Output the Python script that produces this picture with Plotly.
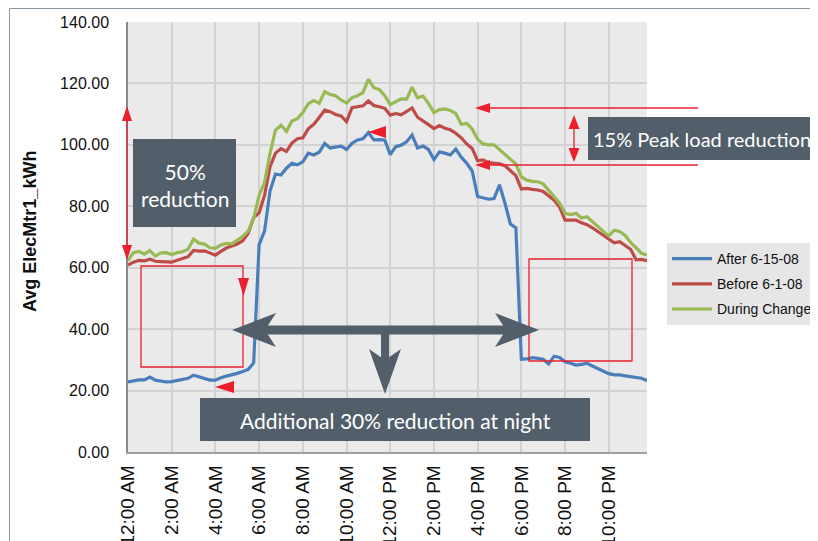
import plotly.graph_objects as go

# ---------------- data ----------------
def _lbl(i):
    h, m = divmod(i * 15, 60)
    ap = "AM" if h < 12 else "PM"
    hh = h % 12
    hh = 12 if hh == 0 else hh
    return f"{hh}:{m:02d} {ap}"

slots = [_lbl(i) for i in range(96)]          # 15-minute categories
tick_labels = ["12:00 AM", "2:00 AM", "4:00 AM", "6:00 AM", "8:00 AM", "10:00 AM",
               "12:00 PM", "2:00 PM", "4:00 PM", "6:00 PM", "8:00 PM", "10:00 PM"]

after_6_15 = [22.8, 23.1, 23.5, 23.5, 24.4, 23.4, 23.1, 22.8, 22.9, 23.3, 23.7, 24.0,
              25.0, 24.5, 24.0, 23.4, 23.4, 24.2, 24.7, 25.1, 25.6, 26.2, 26.9, 29.0,
              67.5, 72.0, 85.0, 90.5, 90.2, 92.4, 94.0, 93.5, 94.5, 97.3, 96.7, 97.6,
              100.5, 99.0, 99.4, 99.6, 98.5, 100.5, 101.6, 102.0, 104.0, 101.6, 101.7, 101.6,
              96.8, 99.4, 99.9, 101.0, 103.2, 99.0, 99.6, 98.5, 95.2, 97.7, 97.3, 96.7,
              98.6, 96.0, 94.0, 91.5, 83.2, 82.7, 82.3, 82.5, 87.0, 81.0, 74.2, 73.0,
              30.2, 30.3, 30.7, 30.5, 30.2, 28.7, 31.2, 30.8, 29.4, 28.9, 28.3, 28.5,
              28.9, 28.0, 27.1, 26.3, 25.5, 25.1, 25.1, 24.8, 24.5, 24.2, 24.0, 23.3]

before_6_1 = [60.9, 61.8, 62.4, 62.2, 62.8, 62.1, 62.0, 62.0, 61.8, 62.4, 63.0, 63.6,
              65.6, 65.4, 65.5, 64.9, 64.1, 65.3, 66.4, 67.1, 67.7, 68.8, 71.2, 76.3,
              77.9, 83.6, 92.9, 97.3, 98.8, 97.9, 100.6, 102.0, 102.3, 105.2, 106.7, 108.9,
              111.3, 110.8, 109.9, 109.4, 107.6, 112.1, 112.4, 112.7, 114.3, 112.8, 112.4, 111.9,
              109.7, 110.2, 109.8, 110.8, 112.0, 109.0, 107.9, 106.6, 105.3, 106.3, 105.4, 104.9,
              103.8, 102.3, 100.3, 98.8, 94.8, 95.1, 94.2, 94.0, 93.8, 93.2, 91.7, 90.0,
              85.6, 85.8, 85.5, 85.3, 84.8, 83.3, 82.0, 79.7, 75.5, 75.5, 75.5, 74.6,
              74.0, 73.0, 71.7, 70.7, 69.3, 68.1, 68.5, 67.4, 66.0, 62.6, 62.7, 62.3]

during_changes = [62.3, 64.9, 65.3, 64.4, 65.6, 63.8, 64.8, 64.9, 64.3, 64.9, 65.2, 66.0,
                  69.3, 68.0, 67.7, 66.5, 66.3, 67.4, 67.9, 67.8, 69.0, 70.2, 72.0, 76.0,
                  83.6, 87.8, 97.3, 104.8, 106.4, 104.4, 107.8, 108.5, 110.5, 113.4, 114.4, 113.5,
                  117.3, 116.4, 116.0, 114.6, 113.6, 115.4, 116.0, 117.0, 121.3, 118.6, 118.0, 116.0,
                  113.1, 114.2, 115.0, 114.9, 118.8, 115.3, 115.9, 113.5, 110.5, 111.5, 111.7, 111.2,
                  110.2, 106.7, 107.0, 105.2, 101.8, 100.3, 100.0, 100.0, 98.4, 97.1, 95.5, 93.8,
                  89.6, 88.5, 88.1, 88.0, 87.3, 85.2, 83.4, 81.0, 77.7, 77.3, 77.7, 76.2,
                  76.6, 75.0, 73.6, 71.9, 70.3, 72.2, 71.8, 70.5, 68.2, 66.5, 64.7, 64.1]

series_names = ["After 6-15-08", "Before 6-1-08", "During Changes"]
series_colors = ["#4a7ebb", "#be4b48", "#98b954"]
y_ticks = [0, 20, 40, 60, 80, 100, 120, 140]

# ---------------- layout geometry (page pixels) ----------------
PAGE_W, PAGE_H = 818, 541
OFF = 8                       # default body margin of the html page
W, H = PAGE_W - OFF, PAGE_H - OFF
L, R, T, B = 128, 647, 22, 452


def px(x):
    return (x - L) / (R - L)


def py(y):
    return (B - y) / (B - T)


RED = "#ec1f2d"
DARK = "#525f6b"

fig = go.Figure()
for name, vals, col in zip(series_names, [after_6_15, before_6_1, during_changes], series_colors):
    fig.add_trace(go.Scatter(x=slots, y=vals, mode="lines", name=name,
                             legendgroup=name,
                             line=dict(color=col, width=3.2)))

shapes = []


def poly(pts, color):
    d = "M " + " L ".join(f"{px(x):.5f},{py(y):.5f}" for x, y in pts) + " Z"
    shapes.append(dict(type="path", xref="paper", yref="paper", path=d,
                       fillcolor=color, line=dict(width=0)))


def seg(x0, y0, x1, y1, color, w=1.3):
    shapes.append(dict(type="line", xref="paper", yref="paper",
                       x0=px(x0), y0=py(y0), x1=px(x1), y1=py(y1),
                       line=dict(color=color, width=w)))


def box(x0, y0, x1, y1, fill=None, color=None, w=1.3):
    d = dict(type="rect", xref="paper", yref="paper",
             x0=px(x0), y0=py(y0), x1=px(x1), y1=py(y1))
    if fill:
        d["fillcolor"] = fill
        d["line"] = dict(width=0)
    else:
        d["line"] = dict(color=color, width=w)
    shapes.append(d)


# chart-area border
shapes.append(dict(type="path", xref="paper", yref="paper",
                   path=f"M {px(9.5)},{py(560)} L {px(9.5)},{py(8.5)} L {px(840)},{py(8.5)}",
                   line=dict(color="#8996a2", width=1)))

# red vertical double arrow (left)
seg(127, 116, 127, 250, RED)
poly([(127, 106), (122, 121), (132, 121)], RED)
poly([(127, 260), (122, 245), (132, 245)], RED)
# triangle pointing at blue peak
poly([(368, 132), (386, 126), (386, 138)], RED)
# horizontal arrows right side
for yy in (108, 165):
    seg(488, yy, 698, yy, RED)
    poly([(475, yy), (490, yy - 5), (490, yy + 5)], RED)
# vertical double arrow (15%)
seg(574, 125, 574, 152, RED)
poly([(574, 115), (568.5, 129), (579.5, 129)], RED)
poly([(574, 162), (568.5, 148), (579.5, 148)], RED)
# night rectangles
box(141, 266, 243, 367, color=RED)
box(529, 259, 632, 361, color=RED)
poly([(243.5, 296), (238, 278), (249, 278)], RED)
poly([(215, 387), (234, 381), (234, 393)], RED)

# dark double arrow + stem
box(262, 325.5, 509, 334.5, fill=DARK)
poly([(232, 330), (276, 313), (265, 330), (276, 347)], DARK)
poly([(539, 330), (495, 313), (506, 330), (495, 347)], DARK)
box(381, 330, 389, 362, fill=DARK)
poly([(385, 394), (369, 349), (385, 360), (401, 349)], DARK)

# text boxes
box(133, 139, 236, 227, fill=DARK)
box(588, 117, 860, 160, fill=DARK)
box(200, 398, 590, 441, fill=DARK)

TXT = dict(family="Lato, Open Sans, sans-serif", color="white", size=21)
annotations = [
    dict(xref="paper", yref="paper", x=px(184.5), y=py(185), text="50%<br>reduction",
         showarrow=False, font=TXT, xanchor="center", yanchor="middle", align="center"),
    dict(xref="paper", yref="paper", x=px(591), y=py(139), text="15% Peak load reduction",
         showarrow=False, font=dict(TXT, size=20), xanchor="left", yanchor="middle"),
    dict(xref="paper", yref="paper", x=px(395), y=py(420), text="Additional 30% reduction at night",
         showarrow=False, font=TXT, xanchor="center", yanchor="middle"),
    dict(xref="paper", yref="paper", x=px(30), y=py(232), text="<b>Avg ElecMtr1_kWh</b>",
         showarrow=False, textangle=-90, xanchor="center", yanchor="middle",
         font=dict(family="Arial, Liberation Sans, sans-serif", size=18, color="#111111")),
]

fig.update_layout(
    width=W, height=H,
    margin=dict(l=L - OFF, r=PAGE_W - R, t=T - OFF, b=PAGE_H - B, autoexpand=False),
    paper_bgcolor="white", plot_bgcolor="#eaeaea",
    shapes=shapes, annotations=annotations,
    showlegend=True,
    legend=dict(x=px(667), y=py(243), xanchor="left", yanchor="top",
                bgcolor="#e6e6e6", borderwidth=0, tracegroupgap=4,
                traceorder="grouped", itemwidth=40,
                font=dict(family="Arial, Liberation Sans, sans-serif", size=14, color="#111111")),
    xaxis=dict(type="category", range=[0, 95], tickvals=tick_labels, ticktext=tick_labels,
               tickangle=-90, showgrid=True, gridcolor="#d2d2d2", gridwidth=1.5,
               showline=True, linecolor="#a0a0a0", linewidth=1.5, ticks="",
               automargin=False, ticklabelstandoff=4,
               tickfont=dict(family="Arial, Liberation Sans, sans-serif", size=19, color="#111111")),
    yaxis=dict(range=[0, 140], tickvals=y_ticks, tickformat=".2f",
               showgrid=True, gridcolor="#d2d2d2", gridwidth=1.5, zeroline=False,
               showline=True, linecolor="#8a8a8a", linewidth=1.5, ticks="",
               automargin=False, ticklabelstandoff=14,
               tickfont=dict(family="Arial, Liberation Sans, sans-serif", size=16, color="#111111")),
)

fig.write_html("out.html")
